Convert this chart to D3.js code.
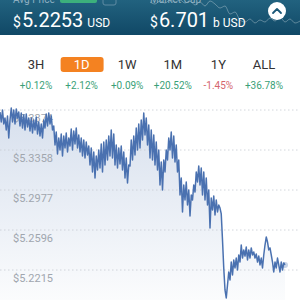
<!DOCTYPE html>
<html>
<head>
<meta charset="utf-8">
<script src="https://cdn.jsdelivr.net/npm/d3@7"></script>
<style>
  body { margin: 0; background: #fff; }
  svg { display: block; font-family: Roboto, "Noto Sans", sans-serif; }
</style>
</head>
<body>
<svg id="chart" width="300" height="300"></svg>
<script>
/* global d3 */

var periods = ['3H', '1D', '1W', '1M', '1Y', 'ALL'];
var changes = [0.12, 2.12, 0.09, 20.52, -1.45, 36.78];
var selectedPeriod = '1D';

var avgPrice = '5.2253';
var marketCap = '6.701';

var priceTicks = [5.3739, 5.3358, 5.2977, 5.2596, 5.2215];
var tickLabels = ['$5.3374', '$5.3358', '$5.2977', '$5.2596', '$5.2215'];

// 1D price
var prices = [
  5.3720, 5.3625, 5.3739, 5.3606, 5.3663, 5.3549, 5.3682, 5.3472,
  5.3644, 5.3758, 5.3625, 5.3739, 5.3606, 5.3749, 5.3663, 5.3720,
  5.3587, 5.3710, 5.3567, 5.3691, 5.3549, 5.3701, 5.3577, 5.3663,
  5.3539, 5.3663, 5.3520, 5.3644, 5.3549, 5.3672, 5.3510, 5.3625,
  5.3491, 5.3606, 5.3472, 5.3644, 5.3567, 5.3701, 5.3587, 5.3710,
  5.3606, 5.3682, 5.3549, 5.3587, 5.3406, 5.3529, 5.3320, 5.3472,
  5.3358, 5.3510, 5.3301, 5.3491, 5.3377, 5.3520, 5.3339, 5.3472,
  5.3396, 5.3558, 5.3358, 5.3539, 5.3415, 5.3567, 5.3377, 5.3501,
  5.3339, 5.3472, 5.3301, 5.3453, 5.3282, 5.3434, 5.3310, 5.3396,
  5.3215, 5.3377, 5.3149, 5.3339, 5.3091, 5.3301, 5.3168, 5.3358,
  5.3187, 5.3415, 5.3149, 5.3434, 5.3215, 5.3453, 5.3263, 5.3491,
  5.3301, 5.3549, 5.3282, 5.3510, 5.3215, 5.3406, 5.3187, 5.3377,
  5.3225, 5.3396, 5.3168, 5.3339, 5.3091, 5.3282, 5.3044, 5.3215,
  5.3206, 5.3453, 5.3263, 5.3491, 5.3310, 5.3567, 5.3358, 5.3606,
  5.3377, 5.3644, 5.3453, 5.3710, 5.3501, 5.3663, 5.3406, 5.3596,
  5.3282, 5.3549, 5.3263, 5.3501, 5.3215, 5.3434, 5.3168, 5.3358,
  5.3025, 5.3244, 5.2977, 5.3263, 5.3149, 5.3358, 5.3263, 5.3472,
  5.3358, 5.3529, 5.3282, 5.3491, 5.3244, 5.3406, 5.3149, 5.3263,
  5.2930, 5.3091, 5.2768, 5.3025, 5.2882, 5.3053, 5.2834, 5.2977,
  5.2730, 5.2930, 5.2882, 5.3025, 5.2958, 5.3149, 5.3053, 5.3206,
  5.3025, 5.3187, 5.2930, 5.3149, 5.2882, 5.3091, 5.2834, 5.2977,
  5.2615, 5.2901, 5.2787, 5.2920, 5.2739, 5.2882, 5.2768, 5.2834,
  5.2805, 5.2749, 5.2501, 5.2234, 5.2025, 5.1949,
  5.2072, 5.2196, 5.2120, 5.2291, 5.2167, 5.2310, 5.2234, 5.2329, 5.2215, 5.2358,
  5.2291, 5.2453, 5.2329, 5.2406, 5.2348, 5.2434, 5.2310, 5.2406, 5.2329, 5.2425,
  5.2358, 5.2387, 5.2329, 5.2368, 5.2291, 5.2348, 5.2263, 5.2329, 5.2234, 5.2358,
  5.2453, 5.2529, 5.2482, 5.2406, 5.2425, 5.2358, 5.2291, 5.2196, 5.2291, 5.2234,
  5.2329, 5.2263, 5.2196, 5.2291, 5.2215, 5.2282, 5.2263
];

// market cap sparkline behind the header (b USD)
var capSpark = [
  6.790, 6.780, 6.795, 6.785, 6.800, 6.790, 6.800, 6.785, 6.795, 6.775,
  6.790, 6.770, 6.795, 6.780, 6.760, 6.770, 6.730, 6.740, 6.700, 6.690,
  6.705, 6.685, 6.700, 6.690, 6.710, 6.695, 6.715, 6.690, 6.705, 6.685, 6.695
];

var svg = d3.select('svg#chart');
var defs = svg.append('defs');

function pctText(v) { return (v > 0 ? '+' : '') + v.toFixed(2) + '%'; }
function pctColor(v) { return v < 0 ? '#d4656d' : '#3a9f77'; }
function isSelected(p) { return p === selectedPeriod; }

var headGrad = defs.append('linearGradient')
  .attr('id', 'headGrad').attr('x1', 0).attr('y1', 0).attr('x2', 0).attr('y2', 1);
headGrad.append('stop').attr('offset', '0%').attr('stop-color', '#22627f');
headGrad.append('stop').attr('offset', '100%').attr('stop-color', '#104866');

var areaGrad = defs.append('linearGradient')
  .attr('id', 'areaGrad').attr('gradientUnits', 'userSpaceOnUse')
  .attr('x1', 0).attr('y1', 105).attr('x2', 0).attr('y2', 300);
areaGrad.append('stop').attr('offset', '0%').attr('stop-color', '#d6dfed');
areaGrad.append('stop').attr('offset', '100%').attr('stop-color', '#fbfcfd');

drawHeader();
drawTabs();
drawChart();

function drawHeader() {
  var head = svg.append('g').classed('header', true);

  head.append('rect')
    .attr('width', 300).attr('height', 35)
    .attr('fill', 'url(#headGrad)')
  ;

  var sx = d3.scaleLinear().domain([0, capSpark.length - 1]).range([150, 300]);
  var sy = d3.scaleLinear().domain([6.675, 6.800]).range([25, 0]);
  head.append('path')
    .attr('d', d3.line().x(function (d, i) { return sx(i); }).y(sy).curve(d3.curveMonotoneX)(capSpark))
    .attr('fill', 'none')
    .attr('stroke', '#fff')
    .attr('stroke-opacity', 0.3)
    .attr('stroke-width', 1)
  ;

  // labels cut off by the top edge, as in the screenshot
  head.append('text').attr('x', 13).attr('y', 3)
    .attr('font-size', 10).attr('fill', '#8fb0c2').text('Avg Price');
  head.append('rect')
    .attr('x', 60).attr('y', -10).attr('width', 37).attr('height', 13).attr('rx', 2)
    .attr('fill', '#3cb07c');
  head.append('rect')
    .attr('x', 103).attr('y', -8).attr('width', 13).attr('height', 13).attr('rx', 2)
    .attr('fill', 'none').attr('stroke', '#5f8ba3');
  head.append('text').attr('x', 150).attr('y', 3)
    .attr('font-size', 10).attr('fill', '#8fb0c2').text('Market Cap');

  var price = head.append('text').attr('x', 13).attr('y', 27).attr('fill', '#fff');
  price.append('tspan').attr('font-size', 14).text('$');
  price.append('tspan').attr('font-size', 20).attr('dx', 1).text(avgPrice);
  price.append('tspan').attr('font-size', 12).attr('dx', 4).text('USD');

  var cap = head.append('text').attr('x', 150).attr('y', 27).attr('fill', '#fff');
  cap.append('tspan').attr('font-size', 14).text('$');
  cap.append('tspan').attr('font-size', 20).attr('dx', 1).text(marketCap);
  cap.append('tspan').attr('font-size', 12).attr('dx', 4).text('b USD');

  head.append('circle').attr('cx', 277).attr('cy', 11).attr('r', 9).attr('fill', '#fff');
  head.append('path')
    .attr('d', 'M273,13 L277,9 L281,13')
    .attr('fill', 'none').attr('stroke', '#1b5878').attr('stroke-width', 1.8)
    .attr('stroke-linecap', 'round').attr('stroke-linejoin', 'round')
  ;
}

function drawTabs() {
  var tx = d3.scalePoint().domain(periods).range([36, 264]);

  var tabs = svg.append('g').classed('tabs', true)
    .selectAll('.tab').data(periods).enter()
    .append('g').classed('tab', true)
      .attr('transform', function (p) { return 'translate(' + tx(p) + ',0)'; })
  ;

  tabs.filter(isSelected).append('rect')
    .attr('x', -21).attr('y', 57).attr('width', 43).attr('height', 15).attr('rx', 3)
    .attr('fill', '#f48221')
  ;

  tabs.append('text')
    .attr('y', 69).attr('text-anchor', 'middle').attr('font-size', 13)
    .attr('fill', function (p) { return isSelected(p) ? '#fff' : '#333'; })
    .text(function (p) { return p; })
  ;

  tabs.append('text')
    .attr('y', 89).attr('text-anchor', 'middle').attr('font-size', 10)
    .attr('fill', function (p, i) { return pctColor(changes[i]); })
    .text(function (p, i) { return pctText(changes[i]); })
  ;
}

function drawChart() {
  var x = d3.scaleLinear().domain([0, prices.length - 1]).range([0, 285]);
  var y = d3.scaleLinear().domain([5.2215, 5.3739]).range([270, 110]);
  var chart = svg.append('g').classed('plot', true);

  chart.append('path')
    .attr('d', d3.area()
      .x(function (d, i) { return x(i); })
      .y0(300)
      .y1(y)(prices))
    .attr('fill', 'url(#areaGrad)')
  ;

  chart.selectAll('.grid').data(priceTicks).enter()
    .append('line').classed('grid', true)
      .attr('x1', 0).attr('x2', 300)
      .attr('y1', y).attr('y2', y)
      .attr('stroke', '#c6cbd3')
      .attr('stroke-width', 0.8)
      .attr('stroke-dasharray', '1.5,2.5')
  ;

  chart.selectAll('.tick-label').data(priceTicks).enter()
    .append('text').classed('tick-label', true)
      .attr('x', 13)
      .attr('y', function (t) { return y(t) + 12; })
      .attr('font-size', 11)
      .attr('fill', '#a0a6ae')
      .text(function (t, i) { return tickLabels[i]; })
  ;

  chart.append('path')
    .attr('d', d3.line().x(function (d, i) { return x(i); }).y(y)(prices))
    .attr('fill', 'none')
    .attr('stroke', '#4a71b0')
    .attr('stroke-width', 1.5)
    .attr('stroke-linejoin', 'round')
  ;

  var last = prices.length - 1;
  chart.append('circle')
    .attr('cx', x(last)).attr('cy', y(prices[last])).attr('r', 3)
    .attr('fill', '#4a71b0').attr('fill-opacity', 0.3)
  ;
}
</script>
</body>
</html>
